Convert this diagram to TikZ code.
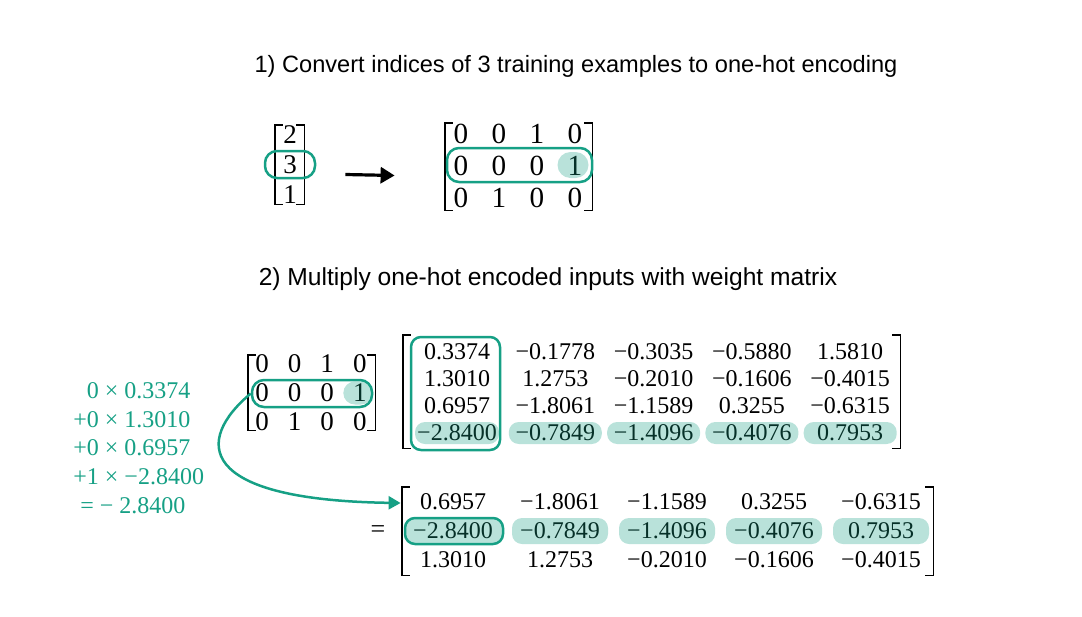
\documentclass[tikz,border=0pt]{standalone}
\usepackage{fontspec}
\setmainfont{Liberation Serif}
\setsansfont{Liberation Sans}
\usetikzlibrary{arrows.meta,positioning,fit,calc}

\definecolor{teal1}{RGB}{22,160,133}

% square brackets on the sides of a (fit) node
\newcommand\brackets[1]{%
  \draw[brk] ([shift={(8,0)}]#1.north west) -- (#1.north west)
    -- (#1.south west) -- ([shift={(8,0)}]#1.south west);
  \draw[brk] ([shift={(-8,0)}]#1.north east) -- (#1.north east)
    -- (#1.south east) -- ([shift={(-8,0)}]#1.south east);}

\begin{document}
\begin{tikzpicture}[
      x=0.5pt, y=-0.5pt,
      title/.style={font=\sffamily\fontsize{11.8}{14}\selectfont},
      big/.style={font=\fontsize{14.6}{16}\selectfont, inner sep=0pt},
      mid/.style={font=\fontsize{13.5}{15}\selectfont, inner sep=0pt},
      num/.style={font=\fontsize{12}{14.4}\selectfont, inner sep=0pt},
      frame/.style={inner sep=0pt},
      brk/.style={line width=0.9pt},
      hl/.style={fill=teal1, fill opacity=0.3, rounded corners=5pt, inner sep=0pt},
      outl/.style={draw=teal1, line width=1.25pt, rounded corners=5pt, inner sep=0pt},
      arr/.style={-{Triangle[length=7pt,width=8pt]}, line width=1.6pt},
      carr/.style={-{Triangle[length=6pt,width=6.5pt]}, draw=teal1, line width=1.25pt},
    ]
    \useasboundingbox (0,0) rectangle (1082,616);

    % --- 1) indices -> one-hot ---
    \node[title] (t1) at (576,66) {1) Convert indices of 3 training examples to one-hot encoding};

    \node[frame, fit={(275,125) (304,204)}] (vec) {};
    \brackets{vec}
    \foreach \v [count=\i] in {2,3,1}
      \node[mid] (v-\i) at (290,{135+30*(\i-1)}) {\v};
    \node[outl, rounded corners=6pt, fit={(265,151) (315,178)}] (vsel) {};

    \node[frame, fit={(445,123) (592,210)}] (oh1) {};
    \brackets{oh1}
    \foreach \row [count=\i] in {{0,0,1,0},{0,0,0,1},{0,1,0,0}}
      \foreach \v [count=\j] in \row
        \node[big] (a-\i-\j) at ({461+38*(\j-1)},{134+32*(\i-1)}) {\v};
    \node[hl, rounded corners=6.5pt, minimum width=15.5pt, minimum height=13pt] (adot) at ([shift={(-2,-1)}]a-2-4) {};
    \node[outl, rounded corners=6pt, fit={(447,148) (592,182)}] (asel) {};

    \draw[arr] ([shift={(41,10)}]vec.east) -- ([shift={(-50,9)}]oh1.west);

    % --- 2) one-hot x weight matrix ---
    \node[title, font=\sffamily\fontsize{12.3}{14}\selectfont] (t2) at (548,279) {2) Multiply one-hot encoded inputs with weight matrix};

    \node[frame, fit={(248,355) (375,430)}] (oh2) {};
    \brackets{oh2}
    \foreach \row [count=\i] in {{0,0,1,0},{0,0,0,1},{0,1,0,0}}
      \foreach \v [count=\j] in \row
        \node[mid] (b-\i-\j) at ({262+32.6*(\j-1)},{364+29*(\i-1)}) {\v};
    \node[hl, rounded corners=5.75pt, minimum width=14.5pt, minimum height=11.5pt] (bdot) at ([shift={(-2,0)}]b-2-4) {};
    \node[outl, rounded corners=6pt, fit={(252,380) (372,407)}] (bsel) {};

    \node[frame, fit={(403,335) (900,448)}] (wm) {};
    \brackets{wm}
    \foreach \row [count=\i] in {{0.3374,−0.1778,−0.3035,−0.5880,1.5810},
        {1.3010,1.2753,−0.2010,−0.1606,−0.4015},
        {0.6957,−1.8061,−1.1589,0.3255,−0.6315},
        {−2.8400,−0.7849,−1.4096,−0.4076,0.7953}}
      \foreach \v [count=\j] in \row
        \node[num] (w-\i-\j) at ({457+98.3*(\j-1)},{352+27*(\i-1)}) {\v};
    \node[hl, minimum width=42pt, minimum height=11pt] (wp-1) at (w-4-1) {};
    \foreach \j in {2,...,5}
      \node[hl, minimum width=46.5pt, minimum height=11pt] (wp-\j) at (w-4-\j) {};
    \node[outl, fit={(411,337) (500,450)}] (wsel) {};

    % result
    \node[num, font=\fontsize{13}{14}\selectfont] (eq) at (378,532) {=};
    \node[frame, fit={(402,487) (933,575)}] (res) {};
    \brackets{res}
    \foreach \row [count=\i] in {{0.6957,−1.8061,−1.1589,0.3255,−0.6315},
        {−2.8400,−0.7849,−1.4096,−0.4076,0.7953},
        {1.3010,1.2753,−0.2010,−0.1606,−0.4015}}
      \foreach \v [count=\j] in \row
        \node[num] (r-\i-\j) at ({453+107*(\j-1)},{502+29*(\i-1)}) {\v};
    \node[hl, outl, fill=teal1, fill opacity=0.3, minimum width=49pt, minimum height=13pt] (rp-1) at ([shift={(1,0)}]r-2-1) {};
    \foreach \j in {2,...,5}
      \node[hl, minimum width=48pt, minimum height=13pt] (rp-\j) at (r-2-\j) {};

    % worked sum for the selected row
    \node[num, text=teal1, align=left, anchor=west] (sum) at (73,448)
      {\phantom{+}0 × 0.3374\\+0 × 1.3010\\+0 × 0.6957\\+1 × −2.8400\\\hspace{3.5pt}= − 2.8400};

    \coordinate (rin) at ($(res.west)+(-1,-28)$);
    \draw[carr] (bsel.west) .. controls (195,440) and (195,500) .. (rin);
  \end{tikzpicture}
\end{document}
